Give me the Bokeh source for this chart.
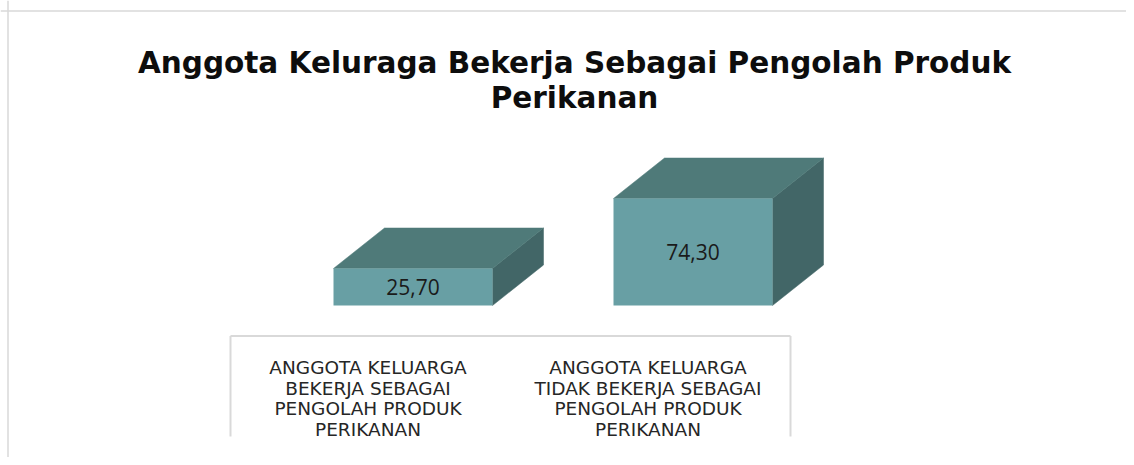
from bokeh.plotting import figure
from bokeh.models import Range1d, Span
from bokeh.core.properties import value
from bokeh.embed import file_html
from bokeh.resources import INLINE

# ---------------- data ----------------
title_lines = ["Anggota Keluraga Bekerja Sebagai Pengolah Produk", "Perikanan"]
categories = [
    "Anggota Keluarga Bekerja Sebagai Pengolah Produk Perikanan",
    "Anggota Keluarga Tidak Bekerja Sebagai Pengolah Produk Perikanan",
]
category_label_lines = [
    ["ANGGOTA KELUARGA", "BEKERJA SEBAGAI", "PENGOLAH PRODUK", "PERIKANAN"],
    ["ANGGOTA KELUARGA", "TIDAK BEKERJA SEBAGAI", "PENGOLAH PRODUK", "PERIKANAN"],
]
values = [25.70, 74.30]
value_labels = [f"{v:.2f}".replace(".", ",") for v in values]

# ---------------- layout constants (pixels) ----------------
W, H = 1126, 457
PAGE = 0            # the page is photographed from the figure's own corner
CAT_PX = 280.0      # pixels between category centres
CAT0_PX = 370.0     # page x of first category centre
UNIT_PX = 1.44      # pixels per percent
BASE_PX = 305.0     # page y of the value 0 baseline


def xpx(px):
    return (px - CAT0_PX) / CAT_PX


def ypx(py):
    return (BASE_PX - py) / UNIT_PX


FRONT_OFF = 42.5 / CAT_PX
HALF_W = 79.5 / CAT_PX
DEPTH_X = 51.0 / CAT_PX
DEPTH_Y = 40.5 / UNIT_PX

FRONT_COLOR = "#689fa4"
TOP_COLOR = "#4f7a79"
SIDE_COLOR = "#426667"
GRID_GRAY = "#d9d9d9"

p = figure(
    width=W, height=H,
    x_range=Range1d(xpx(PAGE), xpx(PAGE + W)),
    y_range=Range1d(ypx(PAGE + H), ypx(PAGE)),
    x_axis_type=None, y_axis_type=None,
    toolbar_location=None, output_backend="svg",
    min_border=0,
)
p.outline_line_color = None
p.background_fill_color = "white"
p.border_fill_color = "white"

# outer chart border (left + top)
p.add_layout(Span(location=ypx(10.5), dimension="width", line_color=GRID_GRAY, line_width=1.5))
p.add_layout(Span(location=xpx(7.5), dimension="height", line_color=GRID_GRAY, line_width=1.5))

# ---------------- 3D bars ----------------
n = len(values)
cx = [i + FRONT_OFF for i in range(n)]
left = [c - HALF_W for c in cx]
right = [c + HALF_W for c in cx]

side_xs = [[r, r + DEPTH_X, r + DEPTH_X, r] for r in right]
side_ys = [[0, DEPTH_Y, v + DEPTH_Y, v] for v in values]
top_xs = [[l, r, r + DEPTH_X, l + DEPTH_X] for l, r in zip(left, right)]
top_ys = [[v, v, v + DEPTH_Y, v + DEPTH_Y] for v in values]

p.patches(side_xs, side_ys, fill_color=SIDE_COLOR, line_color=SIDE_COLOR, line_width=0.5)
p.patches(top_xs, top_ys, fill_color=TOP_COLOR, line_color=TOP_COLOR, line_width=0.5)
p.quad(left=left, right=right, bottom=[0] * n, top=values,
       fill_color=FRONT_COLOR, line_color=None)

# value labels centred on the front face
p.text(x=cx, y=[v / 2 for v in values], text=value_labels,
       text_align="center", text_baseline="middle",
       text_font=value("Open Sans"), text_font_size="21px", text_color="#1a1a1a")

# ---------------- category axis box ----------------
bounds = [-0.5, n - 0.5]
axis_y = ypx(335.5)
tick_bottom = ypx(436)
p.segment(x0=[bounds[0]], y0=[axis_y], x1=[bounds[1]], y1=[axis_y],
          line_color=GRID_GRAY, line_width=2)
p.segment(x0=bounds, y0=[axis_y] * 2, x1=bounds, y1=[tick_bottom] * 2,
          line_color=GRID_GRAY, line_width=2)

lx, ly, lt = [], [], []
for i, lines in enumerate(category_label_lines):
    for j, line in enumerate(lines):
        lx.append(i + xpx(CAT0_PX - 2.5))
        ly.append(ypx(367 + 20.5 * j))
        lt.append(line)
p.text(x=lx, y=ly, text=lt, text_align="center", text_baseline="alphabetic",
       text_font=value("DejaVu Sans"), text_font_size="18.5px", text_color="#262626")

# ---------------- title ----------------
title_cx = xpx(574)
p.text(x=[title_cx] * len(title_lines), y=[ypx(62), ypx(97)], text=title_lines,
       text_align="center", text_baseline="alphabetic",
       text_font=value("DejaVu Sans"), text_font_style="bold",
       text_font_size="29.5px", text_color="#0d0d0d")

open("out.html", "w").write(file_html(p, INLINE))
